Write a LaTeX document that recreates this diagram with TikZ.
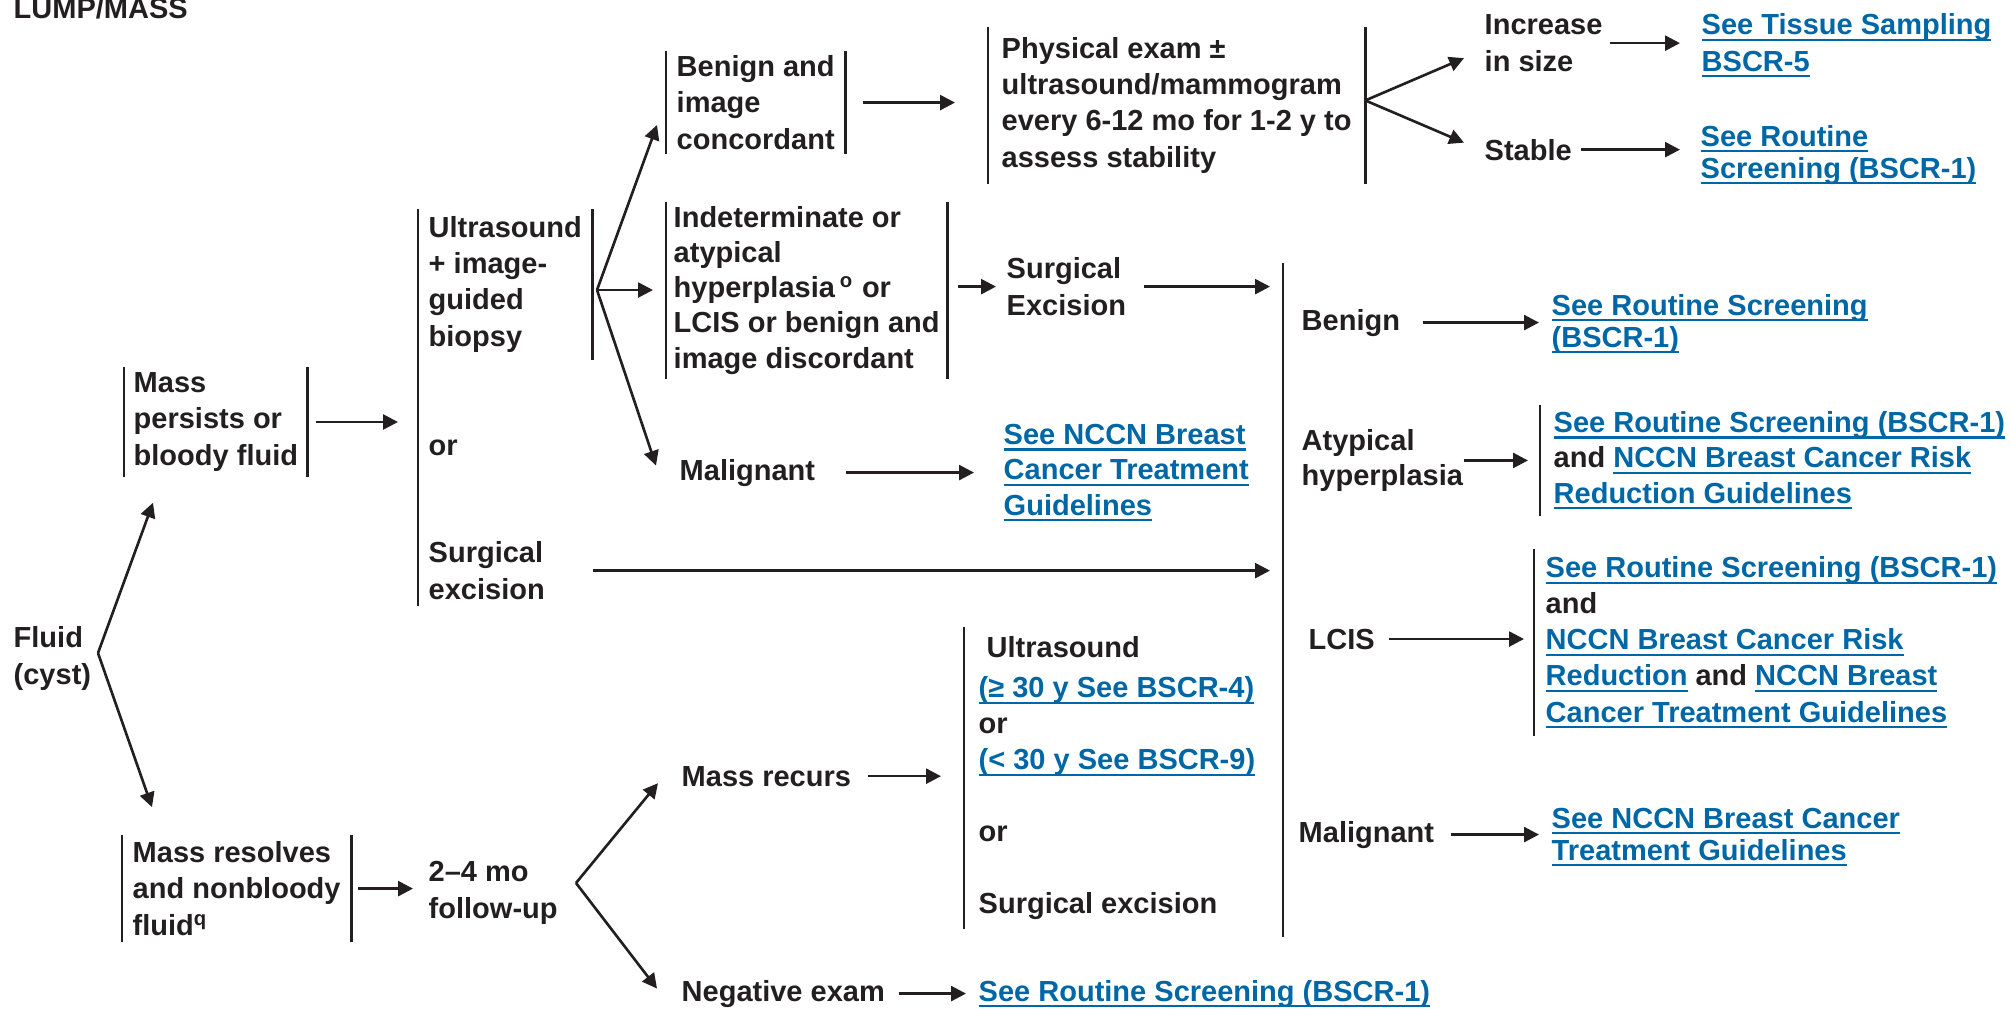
\documentclass[tikz,border=0pt]{standalone}
\usepackage{fontspec}
\setmainfont{Liberation Sans}
\usepackage{xcolor}
\usepackage{tikz}
\usetikzlibrary{positioning, calc, arrows.meta}

\definecolor{ink}{HTML}{231F20}
\definecolor{nccnblue}{HTML}{0067A6}
\newlength\pxu \setlength\pxu{0.01cm}
% blue underlined reference text
\newcommand\lnk[1]{{\color{nccnblue}\setbox0=\hbox{#1}\rlap{\rule[-1.8pt]{\wd0}{0.75pt}}\box0}}

\begin{document}
\begin{tikzpicture}[
    x = 0.01cm, y = -0.01cm,
    every node/.style = {
        anchor=base west, inner sep=0pt, align=left, text=ink,
        font=\fontsize{8.25pt}{10.25pt}\selectfont\bfseries
    },
    tight/.style = {font=\fontsize{8.25pt}{9.1pt}\selectfont\bfseries},
    barline/.style = {draw=ink, line width=0.75pt},
    lbar/.style = {append after command={(\tikzlastnode.north west) edge[barline] (\tikzlastnode.south west)}},
    rbar/.style = {append after command={(\tikzlastnode.north east) edge[barline] (\tikzlastnode.south east)}},
    bars/.style = {lbar, rbar},
    arr/.style = {draw=ink, line width=0.75pt, -{Triangle[length=4.2pt, width=4.2pt]}}
  ]
    \useasboundingbox (0,0) rectangle (2011,1008);
    % nodes sit on the baseline of their last line

    \node (title) at (13,18) {LUMP/MASS};

    % left column
    \node (fluid) at (13,684) {Fluid\\(cyst)};
    \node[bars, inner xsep=9\pxu, inner ysep=5\pxu] (persist) at (124,465) {Mass\\persists or\\bloody fluid};
    \node[bars, inner xsep=10\pxu, inner ysep=6\pxu] (resolve) at (122,935) {Mass resolves\\and nonbloody\\fluid\textsuperscript{q}};
    \node (followup) at (428,918) {2–4 mo\\follow-up};

    % workup
    \node[rbar, inner xsep=10\pxu, inner ysep=7\pxu] (usb) at (418,346) {Ultrasound\\+ image-\\guided\\biopsy};
    \node (usor) at (428,455) {or};
    \node (surg) at (428,599) {Surgical\\excision};

    % biopsy results
    \node[bars, inner xsep=10\pxu, inner ysep=4\pxu] (benimg) at (666,149) {Benign and\\image\\concordant};
    \node[bars, inner xsep=7\pxu, inner ysep=4\pxu, font=\fontsize{8.25pt}{10pt}\selectfont\bfseries] (indet) at (666,368)
        {Indeterminate or\\atypical\\hyperplasia\,\textsuperscript{o} or\\LCIS or benign and\\image discordant};
    \node (malig) at (679,480) {Malignant};

    \node[bars, inner xsep=13\pxu, inner ysep=10\pxu] (physex) at (988,167)
        {Physical exam ±\\ultrasound/mammogram\\every 6-12 mo for 1-2 y to\\assess stability};
    \node (incr) at (1484,71) {Increase\\in size};
    \node (stable) at (1484,160) {Stable};
    \node (tissue) at (1701,71) {\lnk{See Tissue Sampling}\\\lnk{BSCR-5}};
    \node[tight] (rs1) at (1700,178) {\lnk{See Routine}\\\lnk{Screening (BSCR-1)}};

    \node (surgex) at (1006,315) {Surgical\\Excision};
    \node[font=\fontsize{8.25pt}{10pt}\selectfont\bfseries] (nccn1) at (1003,515)
        {\lnk{See NCCN Breast}\\\lnk{Cancer Treatment}\\\lnk{Guidelines}};

    % excision results
    \coordinate (rtop) at (1283,263);
    \coordinate (rbot) at (1283,937);
    \node (rbenign) at (1301,330) {Benign};
    \node[tight] (rs2) at (1551,347) {\lnk{See Routine Screening}\\\lnk{(BSCR-1)}};
    \node[font=\fontsize{8.25pt}{9.7pt}\selectfont\bfseries] (ratyp) at (1301,485) {Atypical\\hyperplasia};
    \node[lbar, inner xsep=13\pxu, inner ysep=6\pxu, font=\fontsize{8.25pt}{10pt}\selectfont\bfseries] (ratypres) at (1540,503)
        {\lnk{See Routine Screening (BSCR-1)}\\and \lnk{NCCN Breast Cancer Risk}\\\lnk{Reduction Guidelines}};
    \node (rlcis) at (1308,649) {LCIS};
    \node[lbar, inner xsep=11\pxu, inner ysep=7\pxu] (rlcisres) at (1534,722)
        {\lnk{See Routine Screening (BSCR-1)}\\and\\\lnk{NCCN Breast Cancer Risk}\\\lnk{Reduction} and \lnk{NCCN Breast}\\\lnk{Cancer Treatment Guidelines}};
    \node (rmal) at (1298,842) {Malignant};
    \node[tight] (nccn2) at (1551,860) {\lnk{See NCCN Breast Cancer}\\\lnk{Treatment Guidelines}};

    % follow-up branch
    \node (recurs) at (681,786) {Mass recurs};
    \node[lbar, inner xsep=14\pxu, inner ysep=9\pxu] (recblk) at (964,913)
        {\hspace*{8\pxu}Ultrasound\\[4\pxu]\lnk{(≥ 30 y See BSCR-4)}\\or\\\lnk{(< 30 y See BSCR-9)}\\[36\pxu]or\\[35\pxu]Surgical excision};
    \node (negexam) at (681,1001) {Negative exam};
    \node (negrs) at (978,1001) {\lnk{See Routine Screening (BSCR-1)}};

    % connectors
    \coordinate (fk1) at (98,653);
    \draw[arr] (fk1) -- ($(persist.south west)+(29,26)$);
    \draw[arr] (fk1) -- ($(resolve.north west)+(30,-28)$);
    \draw[arr, shorten <=8\pxu, shorten >=20\pxu] (persist.east) -- (persist.east -| usb.west);
    \draw[arr, shorten <=7\pxu, shorten >=15\pxu] (resolve.east) -- (resolve.east -| followup.west);
    \draw[barline] (usb.north west) -- ($(usb.west |- surg.south)+(0,6)$);

    \coordinate (fk3) at (597,290);
    \draw[arr] (fk3) -- ($(benimg.south west)+(-9,-29)$);
    \draw[arr, shorten >=13\pxu] (fk3) -- (fk3 -| indet.west);
    \draw[arr] (fk3) -- ($(malig.west)+(-23,-7)$);

    \draw[arr, shorten <=18\pxu, shorten >=33\pxu] (benimg.east) -- (benimg.east -| physex.west);
    \coordinate (fk4) at ($(physex.east)+(0,-5)$);
    \draw[arr] (fk4) -- ($(incr.west)+(-20,15)$);
    \draw[arr] (fk4) -- ($(stable.west)+(-20,-7)$);
    \draw[arr, shorten <=7\pxu, shorten >=21\pxu] (incr.east) -- (incr.east -| tissue.west);
    \draw[arr, shorten <=9\pxu, shorten >=20\pxu] (stable.east) -- (stable.east -| rs1.west);

    \draw[arr, shorten <=11\pxu, shorten >=10\pxu] (indet.east |- surgex.west) -- (surgex.west);
    \draw[arr, shorten <=17\pxu, shorten >=13\pxu] (surgex.east) -- (surgex.east -| rtop);
    \draw[arr, shorten <=30\pxu, shorten >=29\pxu] (malig.east) -- (malig.east -| nccn1.west);
    \draw[arr, shorten >=13\pxu] (surg.east -| usb.east) -- (surg.east -| rtop);
    \draw[barline] (rtop) -- (rbot);

    \draw[arr, shorten <=22\pxu, shorten >=12\pxu] (rbenign.east) -- (rbenign.east -| rs2.west);
    \draw[arr, shorten >=12\pxu] (ratyp.east) -- (ratyp.east -| ratypres.west);
    \draw[arr, shorten <=13\pxu, shorten >=10\pxu] (rlcis.east) -- (rlcis.east -| rlcisres.west);
    \draw[arr, shorten <=16\pxu, shorten >=12\pxu] (rmal.east) -- (rmal.east -| nccn2.west);

    \coordinate (fk2) at (576,883);
    \draw[arr] (fk2) -- ($(recurs.west)+(-23,7)$);
    \draw[arr] (fk2) -- ($(negexam.west)+(-24,-5)$);
    \draw[arr, shorten <=16\pxu, shorten >=23\pxu] (recurs.east) -- (recurs.east -| recblk.west);
    \draw[arr, shorten <=13\pxu, shorten >=12\pxu] (negexam.east) -- (negexam.east -| negrs.west);
\end{tikzpicture}
\end{document}
